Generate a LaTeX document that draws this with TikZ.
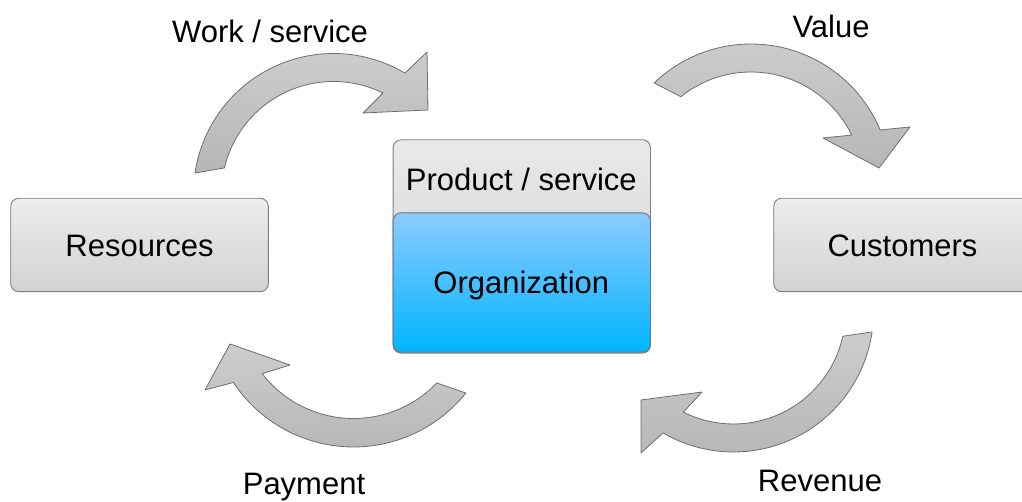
\documentclass[tikz,border=0pt]{standalone}
\usepackage{fontspec}
\setmainfont{Liberation Sans}
\usetikzlibrary{calc}
\definecolor{boxtop}{HTML}{EDEDED}
\definecolor{boxbot}{HTML}{D2D2D2}
\definecolor{boxline}{HTML}{7F7F7F}
\definecolor{prodtop}{HTML}{E9E9E9}
\definecolor{prodbot}{HTML}{D0D0D0}
\definecolor{orgtop}{HTML}{8CCBFF}
\definecolor{orgbot}{HTML}{00B4FF}
\definecolor{orgline}{HTML}{6A7480}
\definecolor{arrtop}{HTML}{CDCDCD}
\definecolor{arrbot}{HTML}{B6B6B6}
\definecolor{arrline}{HTML}{6E6E6E}
\begin{document}
\begin{tikzpicture}[x=1pt,y=1pt,
  every node/.style={font=\fontsize{31}{37}\selectfont, text=black},
  graybox/.style={draw=boxline, line width=0.9pt, rounded corners=8pt,
    top color=boxtop, bottom color=boxbot,
    minimum width=257.6pt, minimum height=93.4pt, inner sep=0pt},
  prodbox/.style={graybox, top color=prodtop, bottom color=prodbot,
    minimum width=257.3pt, minimum height=213.4pt},
  orgbox/.style={draw=orgline, line width=0.9pt, rounded corners=8pt,
    top color=orgtop, bottom color=orgbot,
    minimum width=257.3pt, minimum height=139.4pt, inner sep=0pt},
  bentarrow/.style={draw=arrline, line width=0.8pt, line join=round,
    top color=arrtop, bottom color=arrbot},
  caption/.style={anchor=base, inner sep=0pt}
]
\useasboundingbox (0,0) rectangle (1022,502);
\clip (0,0) rectangle (1022,502);

% side boxes
\node[graybox] (res) at (139.5,257) {};
\node (reslabel) at (139.5,256) {Resources};
\node[graybox] (cust) at (902.5,257) {};
\node (custlabel) at (902.5,256) {Customers};

% central stacked box
\node[prodbox, anchor=north west] (prod) at (392.7,362.7) {};
\node (prodlabel) at (521.3,323) {Product / service};
\node[orgbox, anchor=south west] (org) at (392.7,149.3) {};
\node (orglabel) at (521.3,216.5) {Organization};

% centres of the bent arrows
\coordinate (c1) at (333.5,308.5);
\coordinate (c2) at (751,318);
\coordinate (c3) at (733.5,190);
\coordinate (c4) at (353.5,199);

% Work / service
\draw[bentarrow] ($(c1)+(171.6:140)$) arc[start angle=171.6, end angle=59.3, radius=140]
  -- (427,450) -- (428,392) -- (363,389)
  -- ($(c1)+(63.8:112)$) arc[start angle=63.8, end angle=166.8, radius=112] -- cycle;

% Value
\draw[bentarrow] ($(c2)+(133.8:140)$) arc[start angle=133.8, end angle=22.7, radius=140]
  -- (910,375) -- (879,334) -- (823,364)
  -- ($(c2)+(25.9:112)$) arc[start angle=25.9, end angle=128.8, radius=112] -- cycle;

% Revenue
\draw[bentarrow] ($(c3)+(-8.2:140)$) arc[start angle=-8.2, end angle=-120.2, radius=140]
  -- (641,49) -- (641,102) -- (702,110)
  -- ($(c3)+(-116.6:112)$) arc[start angle=-116.6, end angle=-12.5, radius=112] -- cycle;

% Payment
\draw[bentarrow] ($(c4)+(-38.7:144)$) arc[start angle=-38.7, end angle=-146.5, radius=144]
  -- (205,112) -- (230,158) -- (290,137)
  -- ($(c4)+(-142.3:115.5)$) arc[start angle=-142.3, end angle=-43.8, radius=115.5] -- cycle;

% captions
\node[caption] (work) at (270,459) {Work / service};
\node[caption] (value) at (831,464) {Value};
\node[caption] (payment) at (304,7) {Payment};
\node[caption] (revenue) at (820,10) {Revenue};
\end{tikzpicture}
\end{document}
